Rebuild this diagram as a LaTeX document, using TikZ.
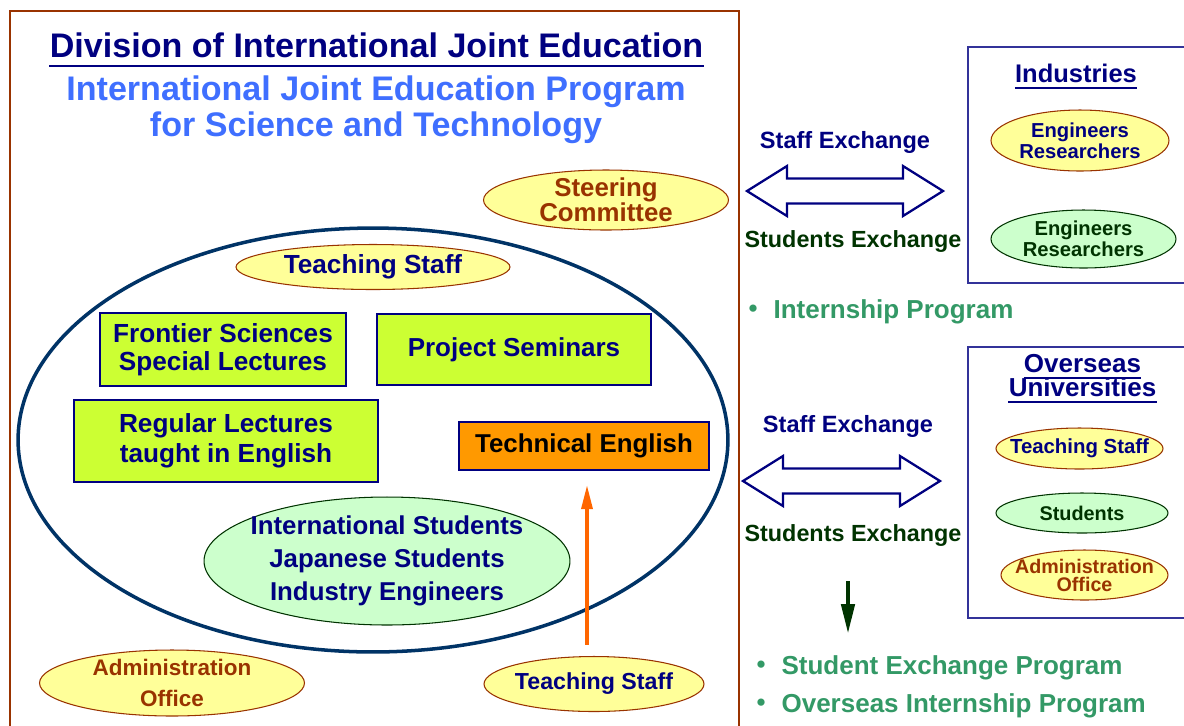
\documentclass[tikz,border=0pt]{standalone}
\usepackage{fontspec}
\setmainfont{Liberation Sans}
\newfontfamily\cjk{Noto Sans CJK JP}
\usetikzlibrary{positioning, calc, shapes.geometric, arrows.meta}
\definecolor{navyblue}{HTML}{000080}
\definecolor{titleblue}{HTML}{3F6FFF}
\definecolor{rust}{HTML}{993300}
\definecolor{framepurple}{HTML}{333399}
\definecolor{ovalblue}{HTML}{003366}
\definecolor{limegreen}{HTML}{CCFF33}
\definecolor{techorange}{HTML}{FF9900}
\definecolor{arroworange}{HTML}{FF6600}
\definecolor{mintgreen}{HTML}{CCFFCC}
\definecolor{lightyellow}{HTML}{FFFF99}
\definecolor{darkgreen}{HTML}{003300}
\definecolor{progreen}{HTML}{339966}
\newcommand{\fsize}[2]{\fontsize{#1}{#2}\selectfont}

\begin{document}
\begin{tikzpicture}[
    x=0.02cm, y=-0.02cm,
    oval/.style={ellipse, inner sep=0pt, line width=0.6pt},
    yellowoval/.style={oval, draw=rust, fill=lightyellow},
    greenoval/.style={oval, draw=darkgreen, fill=mintgreen},
    ovaltext/.style={align=center, inner sep=0pt, font=\bfseries},
    lecture/.style={rectangle, draw=navyblue, line width=1.3pt, fill=limegreen,
        align=center, text=navyblue, inner sep=0pt},
    heading/.style={inner sep=0pt, font=\bfseries},
    exchange/.style={inner sep=0pt, anchor=base, font=\bfseries\fsize{13.4}{15}},
    bullet/.style={inner sep=0pt, anchor=base west, text=progreen,
        font=\bfseries\fsize{14.8}{17}},
    uline/.style={line width=1.2pt}
]

% --- MACRO: DOUBLE ARROW ---
\newcommand{\dblarrow}[3]{
    \draw[navyblue, line width=1.3pt, fill=white]
        (#1,#3) -- (#1+40,#3-25) -- (#1+40,#3-12.5) -- (#2-40,#3-12.5)
        -- (#2-40,#3-25) -- (#2,#3) -- (#2-40,#3+25) -- (#2-40,#3+12.5)
        -- (#1+40,#3+12.5) -- (#1+40,#3+25) -- cycle;
}

% --- CANVAS ---
\useasboundingbox (0,0) rectangle (1184,725);
\clip (0,0) rectangle (1184,725);
\fill[white] (0,0) rectangle (1184,725);

% --- DIVISION ---
\draw[rust, line width=1.1pt] (10,11) rectangle (739,740);
\node[heading, text=navyblue, font=\bfseries\fsize{19.4}{22}, anchor=base]
    (title) at (376.5,57) {Division of International Joint Education};
\draw[uline, navyblue] ([yshift=-0.18cm]title.base west) -- ([yshift=-0.18cm]title.base east);
\node[heading, text=titleblue, font=\bfseries\fsize{19.4}{20.5}, align=center]
    (subtitle) at (376,110) {International Joint Education Program\\for Science and Technology};
\node[yellowoval, minimum width=4.9cm, minimum height=1.2cm,
    label={[ovaltext, text=rust, font=\bfseries\fsize{14.7}{14.2}]center:Steering\\Committee}]
    (steering) at (606,200) {};

% --- PROGRAM ---
\node[oval, draw=ovalblue, line width=2pt, minimum width=14.2cm, minimum height=8.48cm]
    (program) at (373,440) {};
\node[yellowoval, minimum width=5.48cm, minimum height=0.9cm,
    label={[ovaltext, text=navyblue, font=\bfseries\fsize{14.9}{17}]center:Teaching Staff}]
    (staffin) at (373,267) {};
\node[lecture, minimum width=4.92cm, minimum height=1.46cm, font=\bfseries\fsize{14.9}{15.9}]
    (frontier) at (223,349.5) {Frontier Sciences\\Special Lectures};
\node[lecture, minimum width=5.48cm, minimum height=1.42cm, font=\bfseries\fsize{14.8}{17}]
    (seminars) at (514,349.5) {Project Seminars};
\node[lecture, minimum width=6.08cm, minimum height=1.64cm, font=\bfseries\fsize{14.9}{17}]
    (regular) at (226,441) {Regular Lectures\\taught in English};
\node[lecture, fill=techorange, text=black, minimum width=5cm, minimum height=0.96cm,
    font=\bfseries\fsize{14.7}{17}] (techeng) at (584,446) {Technical English};
\node[greenoval, minimum width=7.32cm, minimum height=2.56cm,
    label={[ovaltext, text=navyblue, font=\bfseries\fsize{14.7}{18.8}]center:International Students\\Japanese Students\\Industry Engineers}]
    (students) at (387,561) {};

% --- SUPPORT ---
\node[yellowoval, minimum width=5.3cm, minimum height=1.32cm,
    label={[ovaltext, text=rust, font=\bfseries\fsize{12.8}{17.6}]center:Administration\\Office}]
    (adminin) at (172,683) {};
\node[yellowoval, minimum width=4.4cm, minimum height=1.1cm,
    label={[ovaltext, text=navyblue, font=\bfseries\fsize{13.2}{15}]center:Teaching Staff}]
    (staffout) at (594,684) {};
\draw[arroworange, line width=1.9pt, -{Triangle[length=0.48cm, width=0.22cm]},
    shorten <=0.22cm, shorten >=0.28cm]
    ([xshift=-0.14cm]staffout.north) -- ([xshift=-0.14cm]staffout.north |- techeng.south);

% --- INDUSTRIES ---
\draw[framepurple, line width=1.1pt] (968,47) rectangle (1200,283);
\node[heading, text=navyblue, font=\bfseries\fsize{14.5}{17}, anchor=base]
    (industries) at (1076,82) {Industries};
\draw[uline, navyblue] ([yshift=-0.12cm]industries.base west) -- ([yshift=-0.12cm]industries.base east);
\node[yellowoval, minimum width=3.56cm, minimum height=1.22cm,
    label={[ovaltext, text=navyblue, font=\bfseries\fsize{11.5}{12}]center:Engineers\\Researchers}]
    (engyellow) at (1080,140.5) {};
\node[greenoval, minimum width=3.7cm, minimum height=1.16cm,
    label={[ovaltext, text=darkgreen, font=\bfseries\fsize{11.5}{12}]center:Engineers\\Researchers}]
    (enggreen) at (1083.5,239) {};

% --- UNIVERSITIES ---
\draw[framepurple, line width=1.1pt] (968,347) rectangle (1200,618);
\node[heading, text=navyblue, font=\bfseries\fsize{14.8}{17}, anchor=base]
    (overseas) at (1082.5,372) {Overseas};
\node[heading, text=navyblue, font=\bfseries\fsize{14.8}{17}, anchor=base]
    (universities) at (1082.5,396) {Universities};
\draw[uline, navyblue] ([yshift=-0.12cm]overseas.base west) -- ([yshift=-0.12cm]overseas.base east);
\draw[uline, navyblue] ([yshift=-0.12cm]universities.base west) -- ([yshift=-0.12cm]universities.base east);
\node[yellowoval, minimum width=3.34cm, minimum height=0.82cm,
    label={[ovaltext, text=navyblue, font=\bfseries\fsize{11.6}{13}]center:Teaching Staff}]
    (staffabroad) at (1079.5,448.5) {};
\node[greenoval, minimum width=3.44cm, minimum height=0.8cm,
    label={[ovaltext, text=darkgreen, font=\bfseries\fsize{11.3}{13}]center:Students}]
    (studabroad) at (1082,513) {};
\node[yellowoval, minimum width=3.34cm, minimum height=1cm,
    label={[ovaltext, text=rust, font=\bfseries\fsize{11.2}{10.2}]center:Administration\\Office}]
    (adminabroad) at (1084.5,575) {};

% --- EXCHANGES ---
\dblarrow{747}{943}{191}
\node[exchange, text=navyblue] (staffx1) at (845,148.5) {Staff Exchange};
\node[exchange, text=darkgreen, font=\bfseries\fsize{13.3}{15}] (studx1) at (853,247.4) {Students Exchange};
\node[bullet] (internship) at (740,318) {{\cjk ・} Internship Program};

\dblarrow{743}{940}{481}
\node[exchange, text=navyblue] (staffx2) at (848,432.5) {Staff Exchange};
\node[exchange, text=darkgreen, font=\bfseries\fsize{13.3}{15}] (studx2) at (853,541.4) {Students Exchange};
\coordinate (flowtop) at (848,581);
\coordinate (flowend) at (848,634);
\draw[darkgreen, line width=2.6pt, -{Triangle[length=0.6cm, width=0.26cm]}] (flowtop) -- (flowend);
\node[bullet] (exchprog) at (748,674) {{\cjk ・} Student Exchange Program};
\node[bullet] (internprog) at (748,712) {{\cjk ・} Overseas Internship Program};

\end{tikzpicture}
\end{document}
